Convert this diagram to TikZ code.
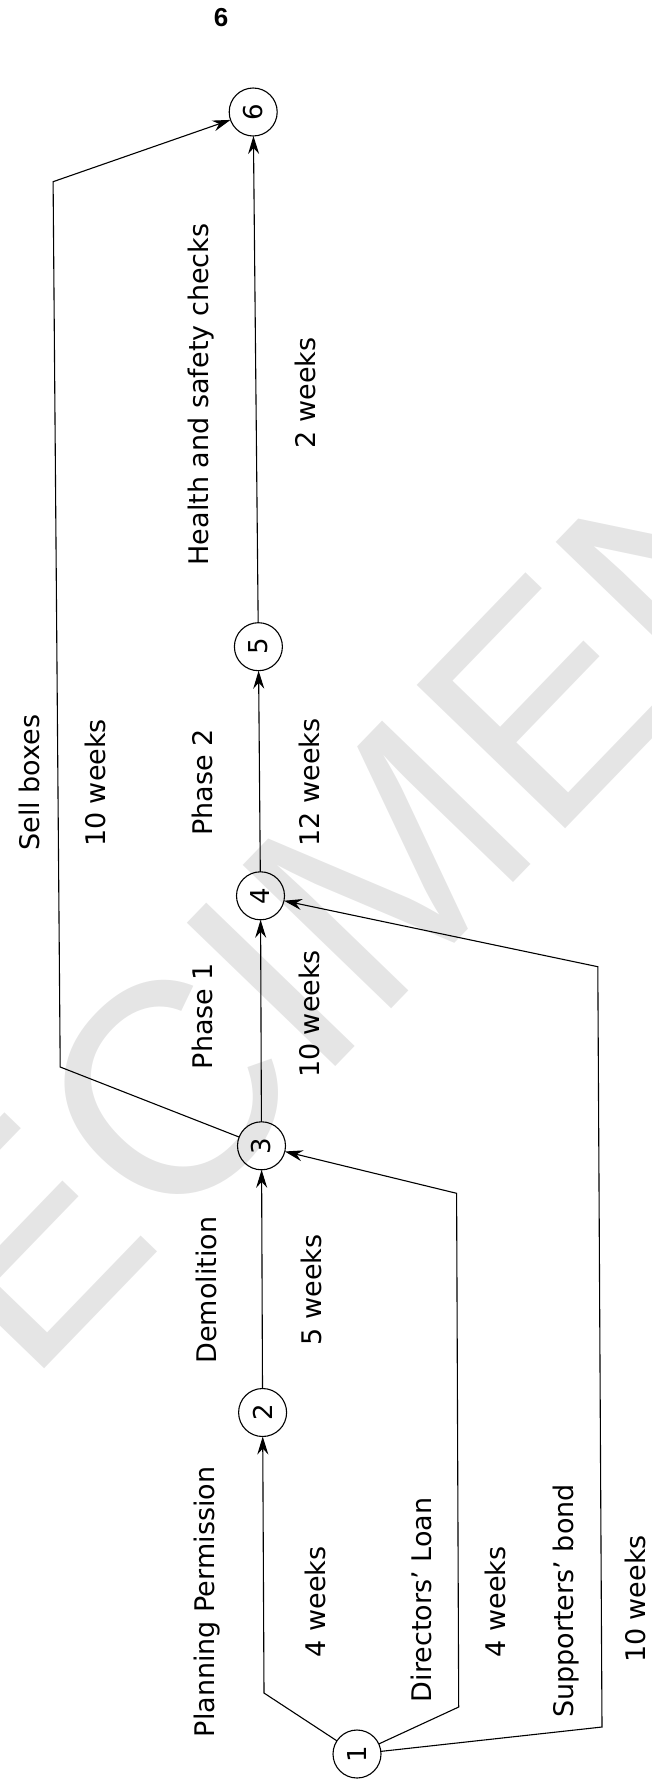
\documentclass[tikz,border=0pt]{standalone}
\usepackage{fontspec}
\setmainfont{DejaVu Sans}
\newfontfamily\markfont{Liberation Sans}
\usetikzlibrary{arrows.meta}
\begin{document}
\begin{tikzpicture}[x={(1pt,0pt)},y={(0pt,-1pt)},every node/.style={inner sep=0pt, outer sep=0pt},
  event/.style={draw, circle, minimum size=48pt, line width=1.1pt, rotate=90, font=\fontsize{26}{30}\selectfont},
  lbl/.style={rotate=90, font=\fontsize{27}{32}\selectfont},
  act/.style={line width=1.1pt, -{Stealth[length=18pt,width=11pt,inset=6pt]}}]
\useasboundingbox (0,0) rectangle (651,1785);

\begin{scope}
\clip (0,0) rectangle (651,1785);
\node[rotate=46, text=gray!20, font=\markfont\fontsize{300}{300}\selectfont] (mark) at (219,1039) {SPECIMEN};
\end{scope}

\node[font=\markfont\bfseries\fontsize{26}{30}\selectfont] (page) at (221,17.5) {6};

\node[event] (n1) at (357,1754) {1};
\node[event] (n2) at (262.6,1412.5) {2};
\node[event] (n3) at (261.5,1145.8) {3};
\node[event] (n4) at (260.5,895.8) {4};
\node[event] (n5) at (258.4,646.7) {5};
\node[event] (n6) at (253.2,112) {6};

\coordinate (c12) at (264,1693);
\coordinate (c13a) at (458.7,1707);
\coordinate (c13b) at (456.6,1193.3);
\coordinate (c14a) at (602,1727);
\coordinate (c14b) at (597.8,966.7);
\coordinate (c36a) at (60.2,1067);
\coordinate (c36b) at (53.1,181.7);

\draw[act] (n1) -- (c12) -- (n2);
\draw[act] (n1) -- (c13a) -- (c13b) -- (n3);
\draw[act] (n1) -- (c14a) -- (c14b) -- (n4);
\draw[act] (n2) -- (n3);
\draw[act] (n3) -- (n4);
\draw[act] (n3) -- (c36a) -- (c36b) -- (n6);
\draw[act] (n4) -- (n5);
\draw[act] (n5) -- (n6);

\node[lbl] (plan) at (207.5,1602) {Planning Permission};
\node[lbl] (planw) at (315.5,1602) {4 weeks};
\node[lbl] (loan) at (421.3,1600) {Directors' Loan};
\node[lbl] (loanw) at (495,1602) {4 weeks};
\node[lbl] (bond) at (565.6,1601) {Supporters' bond};
\node[lbl] (bondw) at (635,1599) {10 weeks};
\node[lbl] (demo) at (206.5,1290) {Demolition};
\node[lbl] (demow) at (311.3,1290) {5 weeks};
\node[lbl] (ph1) at (202.4,1016) {Phase 1};
\node[lbl] (ph1w) at (309.5,1014) {10 weeks};
\node[lbl] (ph2) at (202,782.5) {Phase 2};
\node[lbl] (ph2w) at (309,782.5) {12 weeks};
\node[lbl] (sell) at (29,782.5) {Sell boxes};
\node[lbl] (sellw) at (95.5,783) {10 weeks};
\node[lbl] (hs) at (201.3,394.5) {Health and safety checks};
\node[lbl] (hsw) at (305,393) {2 weeks};
\end{tikzpicture}
\end{document}
